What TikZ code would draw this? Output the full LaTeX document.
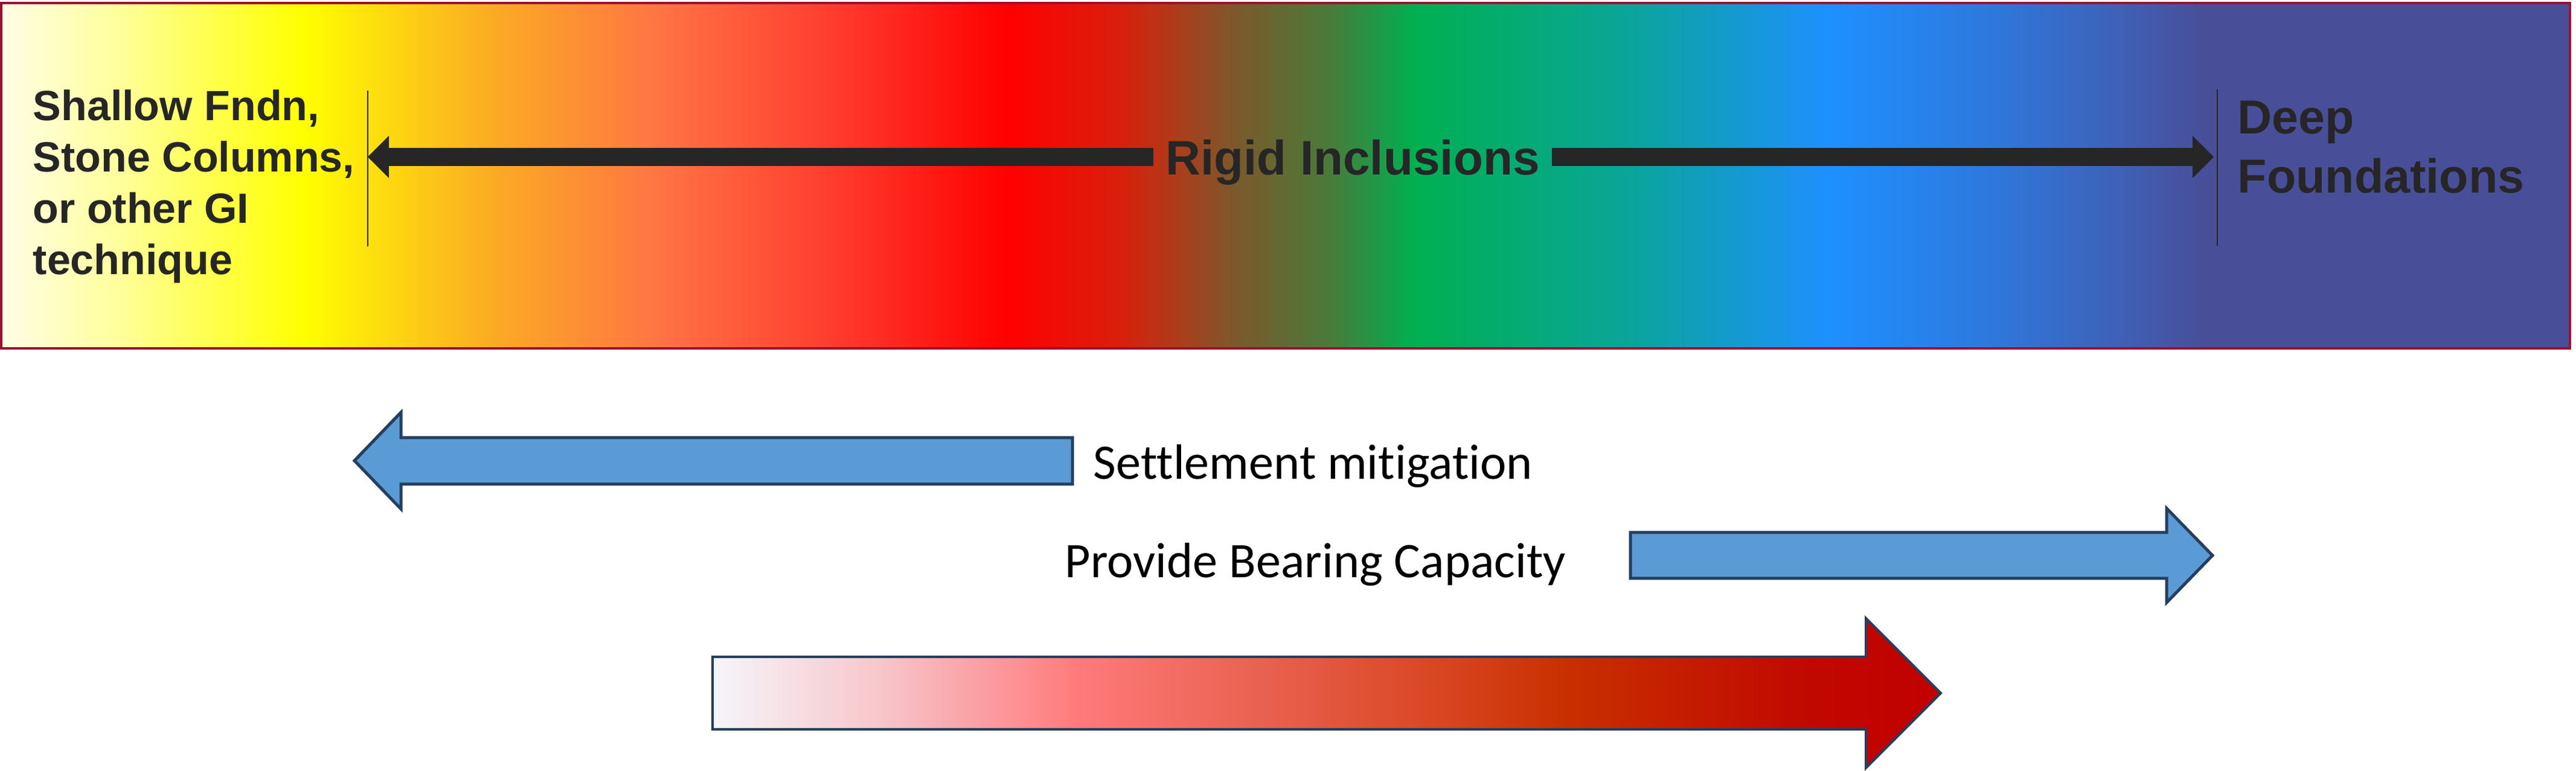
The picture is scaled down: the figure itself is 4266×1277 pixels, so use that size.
\documentclass[tikz,border=0pt]{standalone}
\usepackage{fontspec}
\setmainfont{Carlito}[Ligatures=NoCommon]
\newfontfamily\headfont{Liberation Sans}
\usetikzlibrary{arrows.meta}

\definecolor{inkgray}{HTML}{262626}
\definecolor{framered}{HTML}{9E1030}
\definecolor{navy}{HTML}{243F60}
\definecolor{skyblue}{HTML}{5B9BD5}

% colours of the band
\definecolor{sp0}{HTML}{FFFDE6}
\definecolor{sp1}{HTML}{FFFF99}
\definecolor{sp2}{HTML}{FFFF00}
\definecolor{sp3}{HTML}{FBAE22}
\definecolor{sp4}{HTML}{FF7244}
\definecolor{sp5}{HTML}{FF3C2E}
\definecolor{sp6}{HTML}{FF0000}
\definecolor{sp7}{HTML}{D8200C}
\definecolor{sp8}{HTML}{B03A1A}
\definecolor{sp9}{HTML}{7A5A2B}
\definecolor{sp10}{HTML}{4A7A3A}
\definecolor{sp11}{HTML}{00B050}
\definecolor{sp12}{HTML}{0AA59A}
\definecolor{sp13}{HTML}{1E90FF}
\definecolor{sp14}{HTML}{2E78DC}
\definecolor{sp15}{HTML}{3E62B8}
\definecolor{sp16}{HTML}{484F98}

% colours of the red arrow
\definecolor{ht0}{HTML}{F5F5FA}
\definecolor{ht1}{HTML}{F7C8CC}
\definecolor{ht2}{HTML}{FAA0A5}
\definecolor{ht3}{HTML}{FF7B7B}
\definecolor{ht4}{HTML}{E8604E}
\definecolor{ht5}{HTML}{D8441F}
\definecolor{ht6}{HTML}{C83000}
\definecolor{ht7}{HTML}{C10800}
\definecolor{ht8}{HTML}{C00000}

\pgfdeclarehorizontalshading{spectrum}{100bp}{color(0bp)=(sp0); color(25bp)=(sp0);
  color(27.35bp)=(sp1); color(30.87bp)=(sp2); color(34.39bp)=(sp3); color(37.92bp)=(sp4);
  color(41.2bp)=(sp5); color(44.6bp)=(sp6); color(46.8bp)=(sp7); color(47.8bp)=(sp8);
  color(49.07bp)=(sp9); color(50.83bp)=(sp10); color(52.48bp)=(sp11); color(56.7bp)=(sp12);
  color(60.58bp)=(sp13); color(63.75bp)=(sp14); color(66.1bp)=(sp15); color(67.86bp)=(sp16);
  color(75bp)=(sp16); color(100bp)=(sp16)}

\pgfdeclarehorizontalshading{heat}{100bp}{color(0bp)=(ht0); color(25bp)=(ht0);
  color(31.6bp)=(ht1); color(35.8bp)=(ht2); color(39.7bp)=(ht3); color(47.6bp)=(ht4);
  color(55bp)=(ht5); color(59.7bp)=(ht6); color(69.7bp)=(ht7); color(75bp)=(ht8);
  color(100bp)=(ht8)}

\begin{document}
\begin{tikzpicture}[x=0.01cm, y=-0.01cm,
  headtxt/.style={inner sep=0pt, text=inkgray},
  tickline/.style={inkgray, line width=0.25mm},
  blackarrow/.style={inkgray, line width=3mm, -{Triangle[length=3.5mm, width=7mm, line width=0pt]}},
  bluearrow/.style={fill=skyblue, draw=navy, line width=0.5mm},
  redarrow/.style={shade, shading=heat, draw=navy, line width=0.4mm},
  caption/.style={inner sep=0pt, font=\fontsize{23.4}{27}\selectfont}]
\useasboundingbox (0,0) rectangle (4266,1277);

% the band
\draw [shade, shading=spectrum, draw=framered, line width=0.4mm] (2,5) rectangle (4256,577);
\draw [tickline] (609,150) -- (609,408);
\draw [tickline] (3672,148) -- (3672,407);
\coordinate (lefttip) at (609,260);
\coordinate (righttip) at (3666,260);

\node [headtxt, anchor=west, align=left, font=\headfont\bfseries\fontsize{19.9}{24.2}\selectfont] (shallow) at (54,309) {Shallow Fndn,\\Stone Columns,\\or other GI\\technique};
\node [headtxt, text depth=0pt, inner xsep=0.2cm, font=\headfont\bfseries\fontsize{22.8}{27}\selectfont] (rigid) at (2240,260) {Rigid Inclusions};
\node [headtxt, anchor=west, align=left, font=\headfont\bfseries\fontsize{22.5}{27.9}\selectfont] (deep) at (3705,244) {Deep\\Foundations};

\draw [blackarrow] (rigid.west) -- (lefttip);
\draw [blackarrow] (rigid.east) -- (righttip);

% block arrows below
\draw [bluearrow] (587,763) -- (664,683) -- (664,725) -- (1776,725) -- (1776,802) -- (664,802) -- (664,843) -- cycle;
\node [caption, anchor=base west] (settle) at (1810,794) {Settlement mitigation};

\node [caption, anchor=base west] (bearing) at (1763,957) {Provide Bearing Capacity};
\draw [bluearrow] (2700,882) -- (3588,882) -- (3588,842) -- (3664,920) -- (3588,998) -- (3588,958) -- (2700,958) -- cycle;

\draw [redarrow] (1180,1088) -- (3090,1088) -- (3090,1024) -- (3214,1148) -- (3090,1272) -- (3090,1208) -- (1180,1208) -- cycle;
\end{tikzpicture}
\end{document}
